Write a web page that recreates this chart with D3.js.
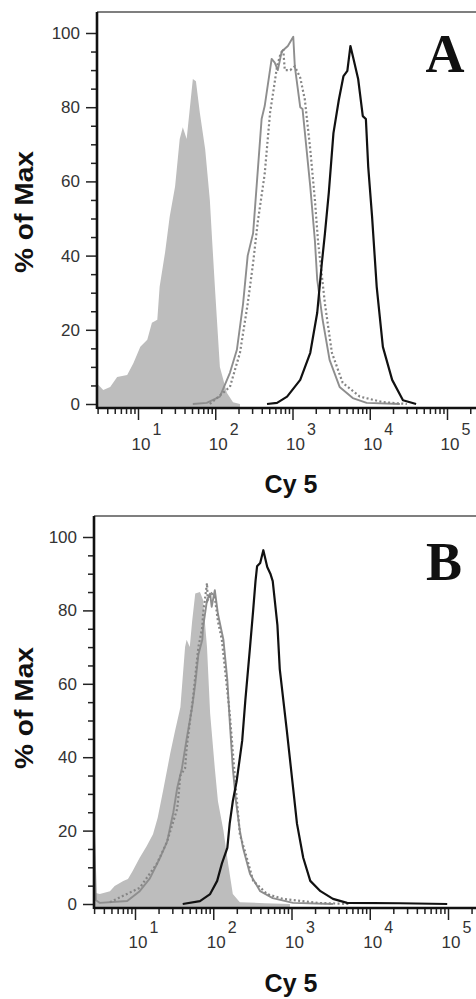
<!DOCTYPE html>
<html><head><meta charset="utf-8">
<script src="https://cdn.jsdelivr.net/npm/d3@7"></script>
<style>
html,body{margin:0;padding:0;background:#fff;}
svg{display:block;}
</style></head>
<body>
<svg id="chart" width="476" height="999"></svg>
<script>
// ---- Data (x as log10 of Cy5 intensity, y as % of Max) ----
// Panel A
const aIsoX   = [0.47,0.55,0.64,0.73,0.86,0.94,1.03,1.12,1.18,1.25,1.28,1.35,1.41,1.48,1.54,1.58,1.63,1.71,1.75,1.80,1.87,1.93,1.96,2.00,2.06,2.15,2.23,2.32];
const aIsoY   = [5.5,3.8,4.6,7.3,7.8,11,15.4,17.3,21.9,22.7,31.6,40.8,50.5,58.6,71.4,74.6,71.4,87.6,87,78.6,68.6,55,44,30,10,3,0.5,0];
const aSolidX = [1.71,1.89,2.06,2.19,2.28,2.36,2.42,2.49,2.60,2.64,2.73,2.77,2.81,2.86,2.94,3.01,3.03,3.10,3.13,3.23,3.29,3.32,3.39,3.48,3.61,3.78,3.96,4.39];
const aSolidY = [0,0.3,2,8.4,14.6,27,40,46,76.8,80.3,93,92,90,95,96.5,99,91,80,79.5,58.6,44,33.5,22.7,11.9,4.6,1.6,0.3,0];
const aDotX   = [1.93,2.19,2.32,2.42,2.49,2.55,2.64,2.71,2.75,2.80,2.84,2.88,2.90,2.97,3.03,3.10,3.16,3.23,3.29,3.33,3.42,3.51,3.65,3.87,4.17,4.48];
const aDotY   = [0,4.6,13.8,27,38,49,62,78.6,84,91,94,95.7,90,90,91,88,82,68.6,55,44,27,13.8,5.7,2,0.5,0];
const aStainX = [2.67,2.80,2.93,3.10,3.23,3.32,3.38,3.42,3.47,3.53,3.60,3.66,3.71,3.75,3.79,3.85,3.91,3.95,3.98,4.03,4.09,4.17,4.29,4.43,4.60];
const aStainY = [0,0.3,2,6.5,13.8,24.6,38,46,57,73,82,88.4,89.8,96.5,93,87.6,77.6,76.8,64,50.5,31.6,15.4,6.5,1,0];
// Panel B
const bIsoX   = [0.476,0.50,0.55,0.68,0.74,0.85,0.91,0.97,1.06,1.15,1.23,1.29,1.36,1.45,1.51,1.58,1.64,1.66,1.70,1.73,1.77,1.83,1.87,1.92,1.96,2.02,2.06,2.13,2.19,2.25,2.34,2.66,2.98];
const bIsoY   = [22,3,2.7,3.5,4.9,6.3,6.8,9,12.6,15.8,19,23.5,31,41,47,53.6,70,72,70,77,84.6,85,82.8,70,52,37,28,20,11,2.7,0.5,0.2,0];
const bSolidX = [0.476,0.50,0.55,0.90,1.06,1.19,1.32,1.41,1.49,1.54,1.60,1.66,1.73,1.77,1.81,1.86,1.87,1.92,1.96,1.98,2.02,2.06,2.13,2.18,2.21,2.25,2.29,2.34,2.38,2.47,2.60,2.76,3.02,3.53];
const bSolidY = [20,1,0.3,0.8,3.5,7,12.6,17,25,31.7,37,45,53.6,60,68,72,75.4,82.8,84.6,81,85.5,79,72,61,50,37,28,20,15.3,8.2,3.5,1.6,0.3,0];
const bDotX   = [0.68,1.06,1.28,1.41,1.54,1.58,1.64,1.66,1.74,1.81,1.86,1.87,1.92,1.93,1.98,2.02,2.06,2.11,2.21,2.28,2.34,2.41,2.51,2.69,2.89,3.33,3.75];
const bDotY   = [0.5,4.4,11,17,26,35,37,42.6,56,70,75.4,79,87.4,82.8,84.6,83.6,77,72,52,33.6,19,14,6.3,2.7,1.4,0.3,0];
const bStainX = [1.61,1.83,1.96,2.05,2.11,2.18,2.21,2.25,2.30,2.37,2.41,2.47,2.51,2.54,2.56,2.60,2.64,2.69,2.73,2.76,2.82,2.85,2.94,3.02,3.07,3.15,3.24,3.37,3.53,3.71,4.39,4.99];
const bStainY = [0,0.8,2.7,6.3,11,15.3,21.9,28,33.6,44.5,55.5,70,80,88,92,92.9,96.4,91.8,90,88,76,64,47.3,31.7,21.9,12.6,6.3,3.5,1.4,0.3,0.2,0];

// Axis tick labels
const yMajorTicks = [0,20,40,60,80,100];
const yMinorTicks = [5,10,15,25,30,35,45,50,55,65,70,75,85,90,95];
const xDecades = [1,2,3,4,5];
const panelLetters = ["A","B"];
const xTitle = "Cy 5";
const yTitle = "% of Max";

const svg = d3.select("#chart");
const W = 476;

function zip(xs, ys){ return xs.map((e,i)=>({x:Math.pow(10,e), y:ys[i]})); }

const panels = [
  {letter:panelLetters[0], left:97, axisY:408, y0:404, y100:33, top:12, x10:138, x1e5:447,
   iso:zip(aIsoX,aIsoY), solid:zip(aSolidX,aSolidY), dot:zip(aDotX,aDotY), stain:zip(aStainX,aStainY),
   letterX:445, letterY:72, yTitleY:212, xTitleY:493, xLabY:450},
  {letter:panelLetters[1], left:94, axisY:908, y0:904, y100:537, top:516, x10:135, x1e5:448,
   iso:zip(bIsoX,bIsoY), solid:zip(bSolidX,bSolidY), dot:zip(bDotX,bDotY), stain:zip(bStainX,bStainY),
   letterX:444, letterY:580, yTitleY:708, xTitleY:992, xLabY:948}
];

panels.forEach((p,pi)=>{
  const x = d3.scaleLog().domain([10,1e5]).range([p.x10,p.x1e5]);
  const y = d3.scaleLinear().domain([0,100]).range([p.y0,p.y100]);
  const g = svg.append("g");

  const clipId = "clip"+pi;
  svg.append("defs").append("clipPath").attr("id",clipId)
    .append("rect").attr("x",p.left).attr("y",p.top).attr("width",W-p.left).attr("height",p.axisY-p.top);

  const plot = g.append("g").attr("clip-path",`url(#${clipId})`);
  const area = d3.area().x(d=>x(d.x)).y0(p.axisY).y1(d=>y(d.y));
  const line = d3.line().x(d=>x(d.x)).y(d=>y(d.y));

  plot.append("path").datum(p.iso).attr("d",area).attr("fill","#bdbdbd").attr("stroke","none");
  plot.append("path").datum(p.solid).attr("d",line).attr("fill","none")
      .attr("stroke","#8e8e8e").attr("stroke-width",1.9).attr("stroke-linejoin","round");
  plot.append("path").datum(p.dot).attr("d",line).attr("fill","none")
      .attr("stroke","#858585").attr("stroke-width",2.2).attr("stroke-dasharray","2,2.4");
  plot.append("path").datum(p.stain).attr("d",line).attr("fill","none")
      .attr("stroke","#111").attr("stroke-width",2.2).attr("stroke-linejoin","round");

  // top frame
  g.append("line").attr("x1",p.left).attr("x2",W).attr("y1",p.top).attr("y2",p.top)
    .attr("stroke","#555").attr("stroke-width",1.6);

  // Y axis: minor and major ticks
  const yAxisMinor = d3.axisLeft(y).tickValues(yMinorTicks).tickSize(6).tickFormat("");
  const yAxisMajor = d3.axisLeft(y).tickValues(yMajorTicks).tickSize(11).tickPadding(6).tickFormat(d3.format("d"));
  const gyMin = g.append("g").attr("transform",`translate(${p.left},0)`).call(yAxisMinor);
  const gyMaj = g.append("g").attr("transform",`translate(${p.left},0)`).call(yAxisMajor);
  [gyMin,gyMaj].forEach(a=>{ a.select(".domain").remove(); a.selectAll("line").attr("stroke","#222").attr("stroke-width",1.5); });
  gyMaj.selectAll("text").attr("font-family","Liberation Sans, Arial, sans-serif").attr("font-size",17)
      .attr("fill","#333").attr("x",-17);

  // X axis: ticks
  const minorVals = [];
  for (let e=0;e<=5;e++) for (let m=2;m<=9;m++){ const v=m*Math.pow(10,e); if (x(v)>=p.left && x(v)<=W) minorVals.push(v); }
  const majorVals = xDecades.map(e=>Math.pow(10,e));
  const xAxisMinor = d3.axisBottom(x).tickValues(minorVals).tickSize(6).tickFormat("");
  const xAxisMajor = d3.axisBottom(x).tickValues(majorVals).tickSize(12).tickFormat("");
  const gxMin = g.append("g").attr("transform",`translate(0,${p.axisY})`).call(xAxisMinor);
  const gxMaj = g.append("g").attr("transform",`translate(0,${p.axisY})`).call(xAxisMajor);
  [gxMin,gxMaj].forEach(a=>{ a.select(".domain").remove(); a.selectAll("line").attr("stroke","#222").attr("stroke-width",1.5); });
  gxMaj.selectAll(".tick").each(function(d){
    const t = d3.select(this);
    const e = Math.round(Math.log10(d));
    t.append("text").attr("x",12).attr("y",p.xLabY-p.axisY).attr("text-anchor","end")
      .attr("font-family","Liberation Sans, Arial, sans-serif").attr("font-size",17).attr("fill","#333").text("10");
    t.append("text").attr("x",14).attr("y",p.xLabY-p.axisY-15).attr("text-anchor","start")
      .attr("font-family","Liberation Sans, Arial, sans-serif").attr("font-size",16).attr("fill","#333").text(String(e));
  });

  // axis lines
  g.append("line").attr("x1",p.left).attr("x2",W).attr("y1",p.axisY).attr("y2",p.axisY)
    .attr("stroke","#111").attr("stroke-width",2.6);
  g.append("line").attr("x1",p.left).attr("x2",p.left).attr("y1",p.top).attr("y2",p.axisY+1)
    .attr("stroke","#111").attr("stroke-width",2.6);

  // titles
  g.append("text").attr("x",291).attr("y",p.xTitleY).attr("text-anchor","middle")
    .attr("font-family","Liberation Sans, Arial, sans-serif").attr("font-weight","bold").attr("font-size",25)
    .attr("fill","#111").text(xTitle);
  g.append("text").attr("transform",`translate(33,${p.yTitleY}) rotate(-90)`).attr("text-anchor","middle")
    .attr("font-family","Liberation Sans, Arial, sans-serif").attr("font-weight","bold").attr("font-size",25)
    .attr("textLength",122).attr("lengthAdjust","spacingAndGlyphs")
    .attr("fill","#111").text(yTitle);

  // panel letter
  g.append("text").attr("x",p.letterX).attr("y",p.letterY).attr("text-anchor","middle")
    .attr("font-family","Liberation Serif, Times New Roman, serif").attr("font-weight","bold").attr("font-size",54)
    .attr("fill","#111").text(p.letter);
});
</script>
</body></html>
